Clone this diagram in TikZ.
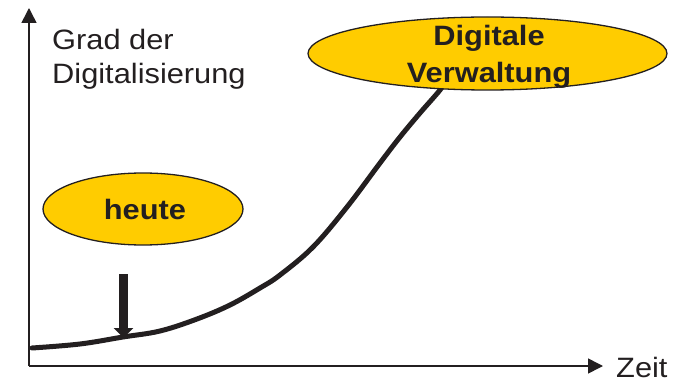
\documentclass[tikz,border=0pt]{standalone}
\usepackage{fontspec}
\setmainfont{Liberation Sans}[FakeStretch=1.1]
\usetikzlibrary{arrows.meta,shapes.geometric}
\definecolor{ink}{RGB}{35,31,32}
\definecolor{gold}{RGB}{255,204,0}
\tikzset{
  axis/.style={line width=1.6pt, draw=ink, -{Triangle[length=15pt,width=15pt]}},
  blob/.style={ellipse, draw=ink, line width=1.3pt, fill=gold, inner sep=0pt},
  label/.style={text=ink, font=\fontsize{28}{34}\selectfont, inner sep=0pt},
  boldlabel/.style={text=ink, font=\fontsize{28}{37}\selectfont\bfseries, inner sep=0pt, align=center},
  growth/.style={line width=5pt, draw=ink, line cap=round},
  marker/.style={line width=9pt, draw=ink, -{Triangle[length=10pt,width=19pt]}}
}
\begin{document}
\begin{tikzpicture}[x=1pt, y=-1pt]
  \useasboundingbox (0,0) rectangle (676,382);

  % axes
  \coordinate (origin) at (29,366);
  \coordinate (ytip) at (29,8);
  \coordinate (xtip) at (603,366);
  \draw[axis] (origin) -- (ytip);
  \draw[axis] (origin) -- (xtip);

  % axis captions
  \node[label, anchor=base west] (ycap1) at (52,50) {Grad der};
  \node[label, anchor=base west] (ycap2) at (52,84) {Digitalisierung};
  \node[label, anchor=base west] (xcap) at (616,377) {Zeit};

  % growth curve
  \draw[growth] plot[smooth, tension=0.6] coordinates {
    (32,348) (80,344) (123,337) (160,331) (197,319) (230,305) (260,288)
    (280,275) (313,247) (347,207) (380,163) (400,137) (420,113) (440,90) (446,80)};

  % ellipses
  \node[blob, minimum width=200pt, minimum height=72pt] (today) at (143,209) {};
  \node[boldlabel] (todaytxt) at (145,209) {heute};
  \node[blob, minimum width=359pt, minimum height=73pt] (goal) at (487.5,53.5) {};
  \node[boldlabel] (goaltxt) at (489,57) {Digitale\\Verwaltung};

  % current position marker
  \coordinate (mtop) at (123.5,274);
  \coordinate (mhit) at (123.5,338);
  \draw[marker] (mtop) -- (mhit);
\end{tikzpicture}
\end{document}
